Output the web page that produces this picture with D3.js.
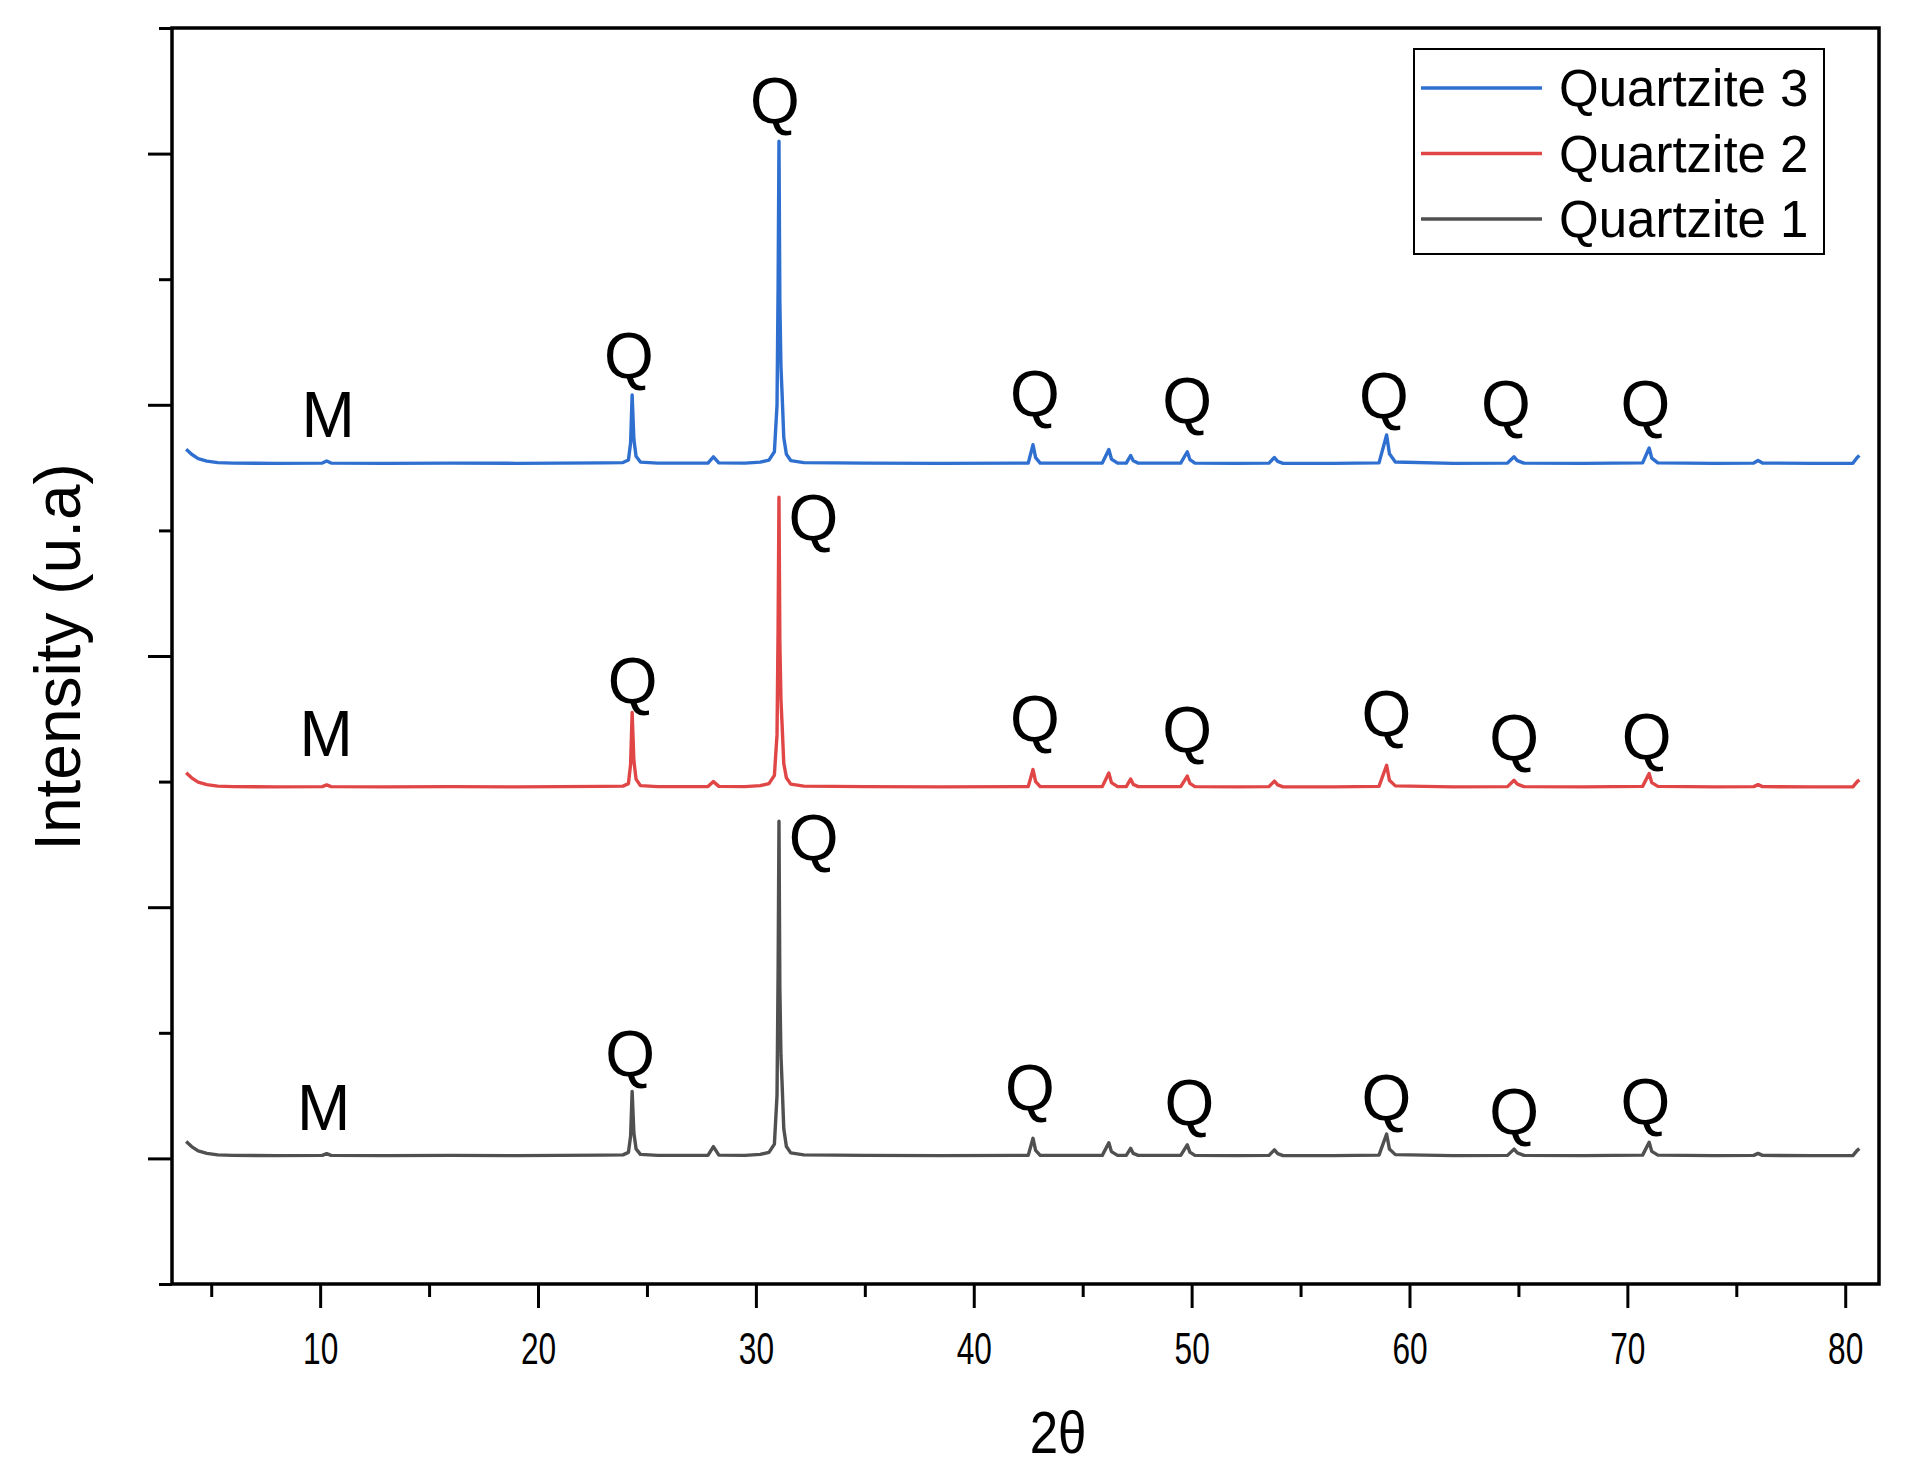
<!DOCTYPE html>
<html>
<head>
<meta charset="utf-8">
<script src="https://cdn.jsdelivr.net/npm/d3@7"></script>
<style>
  html, body { margin: 0; padding: 0; background: #fff; }
  svg { display: block; }
  text { font-family: "Liberation Sans", Arial, sans-serif; fill: #000; }
</style>
</head>
<body>
<svg id="chart" width="1907" height="1475"></svg>
<script>
// ---------- DATA ----------
const angles = [
  3.85, 4.1, 4.4, 4.8, 5.3, 6.0, 8.0, 10.1, 10.3, 10.5, 13.0, 16.0, 19.0, 21.0, 23.0,
  23.9, 24.15, 24.25, 24.32, 24.4, 24.5, 24.7,
  25.5, 27.8, 28.05, 28.3, 29.5,
  30.2, 30.6, 30.85, 30.97, 31.02, 31.06, 31.1, 31.15, 31.2, 31.28, 31.4, 31.6, 32.2,
  35.0, 38.5, 42.0, 42.5, 42.72, 42.84, 43.05,
  45.9, 46.2, 46.32, 46.6, 47.0, 47.2, 47.32, 47.55,
  49.5, 49.8, 49.92, 50.15,
  52.0, 53.55, 53.8, 53.95, 54.2,
  56.5, 58.6, 58.95, 59.08, 59.35,
  62.0, 64.5, 64.8, 64.95, 65.25,
  68.0, 70.7, 71.0, 71.12, 71.4,
  74.0, 75.8, 76.0, 76.2, 78.5, 80.35, 80.55, 80.65
];

const quartzite3 = [
  2823, 2803, 2786, 2776, 2770, 2768, 2767, 2768, 2776, 2768, 2767, 2768, 2767, 2768, 2769,
  2770, 2780, 2849, 3039, 2863, 2795, 2772,
  2768, 2768, 2793, 2769, 2768,
  2772, 2780, 2813, 2999, 3473, 4049, 3409, 3152, 3050, 2870, 2803, 2778, 2770,
  2768, 2767, 2768, 2768, 2841, 2790, 2768,
  2768, 2822, 2784, 2768, 2768, 2798, 2777, 2768,
  2768, 2813, 2782, 2768,
  2767, 2768, 2790, 2775, 2767,
  2767, 2769, 2880, 2805, 2772,
  2767, 2768, 2793, 2778, 2768,
  2767, 2769, 2828, 2788, 2769,
  2767, 2768, 2778, 2768, 2767, 2767, 2790, 2798
];

const quartzite2 = [
  1535, 1515, 1498, 1488, 1482, 1480, 1479, 1480, 1487, 1480, 1479, 1480, 1479, 1480, 1481,
  1482, 1492, 1569, 1775, 1583, 1510, 1484,
  1480, 1480, 1500, 1481, 1480,
  1484, 1492, 1525, 1687, 2114, 2632, 2056, 1826, 1733, 1572, 1515, 1490, 1482,
  1480, 1479, 1480, 1480, 1548, 1500, 1480,
  1480, 1534, 1496, 1480, 1480, 1510, 1489, 1480,
  1480, 1522, 1493, 1480,
  1479, 1480, 1502, 1487, 1479,
  1479, 1481, 1565, 1505, 1483,
  1479, 1480, 1505, 1490, 1480,
  1479, 1481, 1532, 1496, 1481,
  1479, 1480, 1488, 1480, 1479, 1479, 1500, 1507
];

const quartzite1 = [
  67, 47, 30, 20, 14, 12, 11, 12, 19, 12, 11, 12, 11, 12, 13,
  14, 24, 89, 267, 101, 38, 16,
  12, 12, 47, 13, 12,
  16, 24, 57, 251, 744, 1342, 677, 411, 305, 118, 47, 22, 14,
  12, 11, 12, 12, 80, 32, 12,
  12, 62, 27, 12, 12, 40, 20, 12,
  12, 54, 25, 12,
  11, 12, 34, 19, 11,
  11, 13, 97, 37, 15,
  11, 12, 37, 22, 12,
  11, 13, 64, 28, 13,
  11, 12, 20, 12, 11, 11, 32, 39
];

const seriesNames = ["Quartzite 3", "Quartzite 2", "Quartzite 1"];
const seriesColors = ["#2f6fd0", "#e04646", "#505050"];

const xTicksMajor = [10, 20, 30, 40, 50, 60, 70, 80];
const xTicksMinor = [5, 15, 25, 35, 45, 55, 65, 75];
const yTicksMajor = [0, 1000, 2000, 3000, 4000];
const yTicksMinor = [-500, 500, 1500, 2500, 3500, 4500];

// peak annotations: [label, 2theta, intensity]
const labels3 = [["M", 10.37, 2885], ["Q", 24.17, 3118], ["Q", 30.87, 4134], ["Q", 42.81, 2967],
  ["Q", 49.79, 2939], ["Q", 58.83, 2959], ["Q", 64.42, 2927], ["Q", 70.83, 2927]];
const labels2 = [["M", 10.28, 1613], ["Q", 24.34, 1824], ["Q", 32.64, 2473], ["Q", 42.81, 1673],
  ["Q", 49.79, 1631], ["Q", 58.94, 1693], ["Q", 64.8, 1597], ["Q", 70.88, 1601]];
const labels1 = [["M", 10.16, 124], ["Q", 24.23, 339], ["Q", 32.65, 1199], ["Q", 42.58, 203],
  ["Q", 49.9, 143], ["Q", 58.94, 163], ["Q", 64.8, 111], ["Q", 70.83, 147]];

// ---------- CHART ----------
const svg = d3.select("#chart");
const L = 172, R = 1879, T = 28, B = 1284;

const x = d3.scaleLinear().domain([3.2, 81.55]).range([L, R]);
const y = d3.scaleLinear().domain([-500, 4500]).range([B, T]);

const series = [quartzite3, quartzite2, quartzite1];
const line = d3.line().x(d => x(d[0])).y(d => y(d[1]));

const plot = svg.append("g");
series.forEach((vals, i) => {
  const pts = angles.map((a, k) => [a, vals[k]]);
  plot.append("path")
    .attr("d", line(pts))
    .attr("fill", "none")
    .attr("stroke", seriesColors[i])
    .attr("stroke-width", 3.4)
    .attr("stroke-linejoin", "round");
});

// annotations
const ann = svg.append("g");
[labels3, labels2, labels1].forEach(arr => {
  arr.forEach(d => {
    ann.append("text")
      .attr("x", x(d[1]))
      .attr("y", y(d[2]) + 3)
      .attr("text-anchor", "middle")
      .attr("font-size", 64)
      .text(d[0]);
  });
});

// axes
const axisW = 3.5;
const xAxisMajor = d3.axisBottom(x).tickValues(xTicksMajor).tickSize(24).tickFormat(d3.format("d"));
const xAxisMinor = d3.axisBottom(x).tickValues(xTicksMinor).tickSize(13).tickFormat("");
const yAxisMajor = d3.axisLeft(y).tickValues(yTicksMajor).tickSize(24).tickFormat("");
const yAxisMinor = d3.axisLeft(y).tickValues(yTicksMinor).tickSize(13).tickFormat("");

function styleAxis(g) {
  g.select(".domain").remove();
  g.selectAll(".tick line").attr("stroke", "#000").attr("stroke-width", 3);
}

const gx = svg.append("g").attr("transform", `translate(0,${B})`).call(xAxisMajor).call(styleAxis);
gx.selectAll(".tick text")
  .attr("font-size", 44)
  .attr("font-family", "'Liberation Sans', Arial, sans-serif")
  .attr("y", 0)
  .attr("dy", 0)
  .attr("transform", "translate(0,80) scale(0.72,1)")
  .attr("fill", "#000");
svg.append("g").attr("transform", `translate(0,${B})`).call(xAxisMinor).call(styleAxis);
svg.append("g").attr("transform", `translate(${L},0)`).call(yAxisMajor).call(styleAxis);
svg.append("g").attr("transform", `translate(${L},0)`).call(yAxisMinor).call(styleAxis);

// frame
svg.append("rect")
  .attr("x", L).attr("y", T)
  .attr("width", R - L).attr("height", B - T)
  .attr("fill", "none").attr("stroke", "#000").attr("stroke-width", axisW);

// axis titles
svg.append("text")
  .attr("transform", "translate(1058,1453) scale(0.85,1)")
  .attr("text-anchor", "middle")
  .attr("font-size", 60)
  .text("2θ");

svg.append("text")
  .attr("transform", `translate(80,${657}) rotate(-90)`)
  .attr("text-anchor", "middle")
  .attr("font-size", 64)
  .text("Intensity (u.a)");

// legend
const lg = svg.append("g");
lg.append("rect")
  .attr("x", 1414).attr("y", 49).attr("width", 410).attr("height", 205)
  .attr("fill", "#fff").attr("stroke", "#000").attr("stroke-width", 2);
seriesNames.forEach((name, i) => {
  const ry = 88 + i * 65.5;
  lg.append("line")
    .attr("x1", 1421).attr("x2", 1542)
    .attr("y1", ry).attr("y2", ry)
    .attr("stroke", seriesColors[i]).attr("stroke-width", 3.5);
  lg.append("text")
    .attr("x", 1559).attr("y", ry + 18)
    .attr("font-size", 51)
    .text(name);
});
</script>
</body>
</html>
